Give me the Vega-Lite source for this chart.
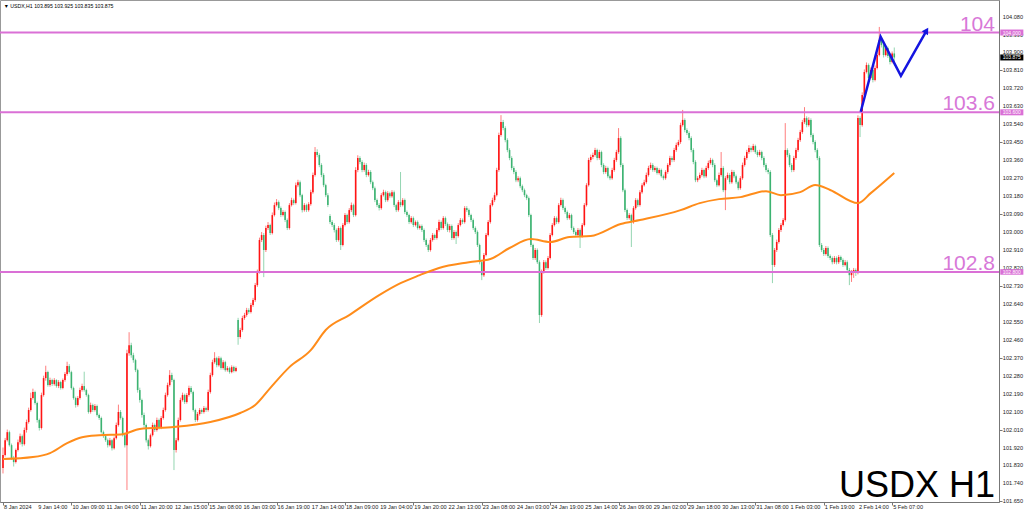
{
"$schema": "https://vega.github.io/schema/vega-lite/v6.json",
"width": 999, "height": 502,
"autosize": {"type": "none"},
"padding": {"left": 0, "top": 0, "right": 25, "bottom": 12},
"background": "white",
"config": {"view": {"stroke": "#999999", "strokeWidth": 1}, "font": "Liberation Sans"},
"datasets": {
"lv": [{"p": 104.0}, {"p": 103.6}, {"p": 102.8}],
"lvt": [{"p": 104.0, "t": "104"}, {"p": 103.6, "t": "103.6"}, {"p": 102.8, "t": "102.8"}],
"xl": [{"i":0,"t":"8 Jan 2024"},{"i":16,"t":"9 Jan 14:00"},{"i":32,"t":"10 Jan 09:00"},{"i":48,"t":"11 Jan 04:00"},{"i":64,"t":"11 Jan 20:00"},{"i":80,"t":"12 Jan 15:00"},{"i":96,"t":"15 Jan 08:00"},{"i":112,"t":"16 Jan 03:00"},{"i":128,"t":"16 Jan 19:00"},{"i":144,"t":"17 Jan 14:00"},{"i":160,"t":"18 Jan 09:00"},{"i":176,"t":"19 Jan 04:00"},{"i":192,"t":"19 Jan 20:00"},{"i":208,"t":"22 Jan 13:00"},{"i":224,"t":"23 Jan 08:00"},{"i":240,"t":"24 Jan 03:00"},{"i":256,"t":"24 Jan 19:00"},{"i":272,"t":"25 Jan 14:00"},{"i":288,"t":"26 Jan 09:00"},{"i":304,"t":"29 Jan 02:00"},{"i":320,"t":"29 Jan 18:00"},{"i":336,"t":"30 Jan 13:00"},{"i":352,"t":"31 Jan 08:00"},{"i":368,"t":"1 Feb 03:00"},{"i":384,"t":"1 Feb 19:00"},{"i":400,"t":"2 Feb 14:00"},{"i":416,"t":"5 Feb 07:00"}],
"yl": [{"p":101.65,"t":"101.650"},{"p":101.74,"t":"101.740"},{"p":101.83,"t":"101.830"},{"p":101.92,"t":"101.920"},{"p":102.01,"t":"102.010"},{"p":102.1,"t":"102.100"},{"p":102.19,"t":"102.190"},{"p":102.28,"t":"102.280"},{"p":102.37,"t":"102.370"},{"p":102.46,"t":"102.460"},{"p":102.55,"t":"102.550"},{"p":102.64,"t":"102.640"},{"p":102.73,"t":"102.730"},{"p":102.82,"t":"102.820"},{"p":102.91,"t":"102.910"},{"p":103.0,"t":"103.000"},{"p":103.09,"t":"103.090"},{"p":103.18,"t":"103.180"},{"p":103.27,"t":"103.270"},{"p":103.36,"t":"103.360"},{"p":103.45,"t":"103.450"},{"p":103.54,"t":"103.540"},{"p":103.63,"t":"103.630"},{"p":103.72,"t":"103.720"},{"p":103.81,"t":"103.810"},{"p":103.9,"t":"103.900"},{"p":103.99,"t":"103.990"},{"p":104.08,"t":"104.080"}],
"tags": [{"p": 104.0, "pt": 104.015, "pb": 103.985, "t": "104.000", "col": "#DA70D6"}, {"p": 103.6, "pt": 103.615, "pb": 103.585, "t": "103.600", "col": "#DA70D6"}, {"p": 102.8, "pt": 102.814, "pb": 102.786, "t": "102.800", "col": "#DA70D6"}, {"p": 103.875, "pt": 103.89, "pb": 103.86, "t": "103.875", "col": "#000000"}],
"arr": [{"k": 0, "i": 401.3, "p": 103.603}, {"k": 1, "i": 410.6, "p": 103.979}, {"k": 2, "i": 420.1, "p": 103.783}, {"k": 3, "i": 432.1, "p": 104.01}],
"arrhead": [{"i": 432.1, "p": 104.01}],
"ma": [{"i":0,"v":101.862},{"i":14,"v":101.872},{"i":22,"v":101.892},{"i":30,"v":101.942},{"i":37,"v":101.972},{"i":45,"v":101.982},{"i":56,"v":101.987},{"i":64,"v":102.013},{"i":80,"v":102.023},{"i":97,"v":102.048},{"i":111,"v":102.093},{"i":118,"v":102.133},{"i":125,"v":102.218},{"i":134,"v":102.323},{"i":144,"v":102.408},{"i":151,"v":102.509},{"i":162,"v":102.584},{"i":176,"v":102.684},{"i":186,"v":102.744},{"i":195,"v":102.784},{"i":204,"v":102.82},{"i":218,"v":102.849},{"i":228,"v":102.865},{"i":237,"v":102.92},{"i":247,"v":102.965},{"i":256,"v":102.95},{"i":265,"v":102.975},{"i":275,"v":102.98},{"i":289,"v":103.04},{"i":298,"v":103.06},{"i":317,"v":103.11},{"i":326,"v":103.145},{"i":335,"v":103.165},{"i":345,"v":103.175},{"i":357,"v":103.205},{"i":364,"v":103.185},{"i":373,"v":103.2},{"i":380,"v":103.236},{"i":387,"v":103.211},{"i":400,"v":103.145},{"i":406,"v":103.195},{"i":417,"v":103.296}],
"c": [
{"i":0,"o":101.817,"h":101.92,"l":101.79,"c":101.882},
{"i":1,"o":101.882,"h":101.968,"l":101.875,"c":101.957},
{"i":2,"o":101.957,"h":102.01,"l":101.95,"c":101.997},
{"i":3,"o":101.997,"h":102.005,"l":101.925,"c":101.932},
{"i":4,"o":101.932,"h":101.94,"l":101.858,"c":101.867},
{"i":5,"o":101.867,"h":101.878,"l":101.825,"c":101.847},
{"i":6,"o":101.847,"h":101.915,"l":101.84,"c":101.907},
{"i":7,"o":101.907,"h":101.96,"l":101.9,"c":101.947},
{"i":8,"o":101.947,"h":101.99,"l":101.935,"c":101.977},
{"i":9,"o":101.977,"h":101.985,"l":101.925,"c":101.937},
{"i":10,"o":101.937,"h":102.02,"l":101.93,"c":102.008},
{"i":11,"o":102.008,"h":102.06,"l":101.995,"c":102.048},
{"i":12,"o":102.048,"h":102.12,"l":102.04,"c":102.108},
{"i":13,"o":102.108,"h":102.195,"l":102.1,"c":102.168},
{"i":14,"o":102.168,"h":102.215,"l":102.16,"c":102.198},
{"i":15,"o":102.198,"h":102.205,"l":102.135,"c":102.143},
{"i":16,"o":102.143,"h":102.15,"l":102.045,"c":102.058},
{"i":17,"o":102.058,"h":102.065,"l":102.005,"c":102.018},
{"i":18,"o":102.018,"h":102.195,"l":102.01,"c":102.183},
{"i":19,"o":102.183,"h":102.28,"l":102.175,"c":102.268},
{"i":20,"o":102.268,"h":102.33,"l":102.255,"c":102.298},
{"i":21,"o":102.298,"h":102.305,"l":102.225,"c":102.233},
{"i":22,"o":102.233,"h":102.27,"l":102.225,"c":102.258},
{"i":23,"o":102.258,"h":102.265,"l":102.228,"c":102.238},
{"i":24,"o":102.238,"h":102.268,"l":102.23,"c":102.258},
{"i":25,"o":102.258,"h":102.262,"l":102.22,"c":102.228},
{"i":26,"o":102.228,"h":102.258,"l":102.218,"c":102.248},
{"i":27,"o":102.248,"h":102.255,"l":102.21,"c":102.218},
{"i":28,"o":102.218,"h":102.266,"l":102.212,"c":102.258},
{"i":29,"o":102.258,"h":102.298,"l":102.25,"c":102.288},
{"i":30,"o":102.288,"h":102.35,"l":102.28,"c":102.328},
{"i":31,"o":102.328,"h":102.338,"l":102.29,"c":102.298},
{"i":32,"o":102.298,"h":102.305,"l":102.21,"c":102.218},
{"i":33,"o":102.218,"h":102.225,"l":102.16,"c":102.168},
{"i":34,"o":102.168,"h":102.175,"l":102.12,"c":102.133},
{"i":35,"o":102.133,"h":102.178,"l":102.125,"c":102.168},
{"i":36,"o":102.168,"h":102.22,"l":102.16,"c":102.208},
{"i":37,"o":102.208,"h":102.24,"l":102.2,"c":102.228},
{"i":38,"o":102.228,"h":102.3,"l":102.2,"c":102.208},
{"i":39,"o":102.208,"h":102.215,"l":102.175,"c":102.183},
{"i":40,"o":102.183,"h":102.19,"l":102.09,"c":102.098},
{"i":41,"o":102.098,"h":102.145,"l":102.09,"c":102.133},
{"i":42,"o":102.133,"h":102.14,"l":102.098,"c":102.108},
{"i":43,"o":102.108,"h":102.138,"l":102.1,"c":102.128},
{"i":44,"o":102.128,"h":102.135,"l":102.075,"c":102.083},
{"i":45,"o":102.083,"h":102.09,"l":102.058,"c":102.068},
{"i":46,"o":102.068,"h":102.075,"l":101.99,"c":101.997},
{"i":47,"o":101.997,"h":102.005,"l":101.968,"c":101.977},
{"i":48,"o":101.977,"h":101.985,"l":101.948,"c":101.957},
{"i":49,"o":101.957,"h":101.965,"l":101.92,"c":101.932},
{"i":50,"o":101.932,"h":101.968,"l":101.925,"c":101.957},
{"i":51,"o":101.957,"h":101.962,"l":101.905,"c":101.917},
{"i":52,"o":101.917,"h":101.975,"l":101.91,"c":101.967},
{"i":53,"o":101.967,"h":102.045,"l":101.96,"c":102.033},
{"i":54,"o":102.033,"h":102.135,"l":102.025,"c":102.098},
{"i":55,"o":102.098,"h":102.108,"l":102.06,"c":102.068},
{"i":56,"o":102.068,"h":102.075,"l":101.975,"c":101.982},
{"i":57,"o":101.982,"h":101.99,"l":101.92,"c":101.932},
{"i":58,"o":101.932,"h":102.41,"l":101.707,"c":102.393},
{"i":59,"o":102.393,"h":102.498,"l":102.38,"c":102.433},
{"i":60,"o":102.433,"h":102.445,"l":102.37,"c":102.383},
{"i":61,"o":102.383,"h":102.395,"l":102.345,"c":102.358},
{"i":62,"o":102.358,"h":102.365,"l":102.298,"c":102.308},
{"i":63,"o":102.308,"h":102.315,"l":102.195,"c":102.208},
{"i":64,"o":102.208,"h":102.22,"l":102.145,"c":102.158},
{"i":65,"o":102.158,"h":102.165,"l":102.07,"c":102.083},
{"i":66,"o":102.083,"h":102.095,"l":102.02,"c":102.033},
{"i":67,"o":102.033,"h":102.04,"l":101.945,"c":101.957},
{"i":68,"o":101.957,"h":101.965,"l":101.91,"c":101.927},
{"i":69,"o":101.927,"h":101.99,"l":101.92,"c":101.982},
{"i":70,"o":101.982,"h":102.045,"l":101.975,"c":102.033},
{"i":71,"o":102.033,"h":102.04,"l":101.998,"c":102.008},
{"i":72,"o":102.008,"h":102.07,"l":102.0,"c":102.058},
{"i":73,"o":102.058,"h":102.065,"l":102.01,"c":102.018},
{"i":74,"o":102.018,"h":102.078,"l":102.012,"c":102.068},
{"i":75,"o":102.068,"h":102.12,"l":102.06,"c":102.108},
{"i":76,"o":102.108,"h":102.195,"l":102.1,"c":102.183},
{"i":77,"o":102.183,"h":102.245,"l":102.175,"c":102.233},
{"i":78,"o":102.233,"h":102.308,"l":102.225,"c":102.283},
{"i":79,"o":102.283,"h":102.295,"l":102.248,"c":102.258},
{"i":80,"o":102.258,"h":102.265,"l":101.807,"c":101.907},
{"i":81,"o":101.907,"h":101.968,"l":101.895,"c":101.957},
{"i":82,"o":101.957,"h":102.07,"l":101.95,"c":102.058},
{"i":83,"o":102.058,"h":102.17,"l":102.05,"c":102.158},
{"i":84,"o":102.158,"h":102.195,"l":102.15,"c":102.183},
{"i":85,"o":102.183,"h":102.19,"l":102.138,"c":102.148},
{"i":86,"o":102.148,"h":102.193,"l":102.14,"c":102.183},
{"i":87,"o":102.183,"h":102.23,"l":102.175,"c":102.218},
{"i":88,"o":102.218,"h":102.228,"l":102.19,"c":102.198},
{"i":89,"o":102.198,"h":102.205,"l":102.1,"c":102.108},
{"i":90,"o":102.108,"h":102.115,"l":102.048,"c":102.058},
{"i":91,"o":102.058,"h":102.098,"l":102.05,"c":102.088},
{"i":92,"o":102.088,"h":102.118,"l":102.08,"c":102.108},
{"i":93,"o":102.108,"h":102.115,"l":102.088,"c":102.098},
{"i":94,"o":102.098,"h":102.128,"l":102.09,"c":102.118},
{"i":95,"o":102.118,"h":102.125,"l":102.098,"c":102.108},
{"i":96,"o":102.108,"h":102.21,"l":102.1,"c":102.198},
{"i":97,"o":102.198,"h":102.295,"l":102.19,"c":102.283},
{"i":98,"o":102.283,"h":102.36,"l":102.275,"c":102.348},
{"i":99,"o":102.348,"h":102.398,"l":102.34,"c":102.368},
{"i":100,"o":102.368,"h":102.375,"l":102.322,"c":102.333},
{"i":101,"o":102.333,"h":102.378,"l":102.325,"c":102.368},
{"i":102,"o":102.368,"h":102.375,"l":102.31,"c":102.318},
{"i":103,"o":102.318,"h":102.358,"l":102.31,"c":102.348},
{"i":104,"o":102.348,"h":102.355,"l":102.3,"c":102.308},
{"i":105,"o":102.308,"h":102.328,"l":102.3,"c":102.318},
{"i":106,"o":102.318,"h":102.325,"l":102.29,"c":102.298},
{"i":107,"o":102.298,"h":102.332,"l":102.292,"c":102.323},
{"i":108,"o":102.323,"h":102.33,"l":102.296,"c":102.303},
{"i":109,"o":102.303,"h":102.326,"l":102.298,"c":102.318},
{"i":110,"o":102.559,"h":102.57,"l":102.435,"c":102.474},
{"i":111,"o":102.474,"h":102.52,"l":102.465,"c":102.509},
{"i":112,"o":102.509,"h":102.58,"l":102.5,"c":102.569},
{"i":113,"o":102.569,"h":102.595,"l":102.56,"c":102.584},
{"i":114,"o":102.584,"h":102.62,"l":102.575,"c":102.609},
{"i":115,"o":102.609,"h":102.618,"l":102.59,"c":102.599},
{"i":116,"o":102.599,"h":102.645,"l":102.592,"c":102.634},
{"i":117,"o":102.634,"h":102.67,"l":102.625,"c":102.659},
{"i":118,"o":102.659,"h":102.745,"l":102.65,"c":102.734},
{"i":119,"o":102.734,"h":102.812,"l":102.725,"c":102.8},
{"i":120,"o":102.8,"h":102.972,"l":102.792,"c":102.96},
{"i":121,"o":102.96,"h":103.0,"l":102.95,"c":102.985},
{"i":122,"o":102.985,"h":102.995,"l":102.774,"c":102.91},
{"i":123,"o":102.91,"h":103.032,"l":102.9,"c":103.02},
{"i":124,"o":103.02,"h":103.05,"l":103.01,"c":103.035},
{"i":125,"o":103.035,"h":103.042,"l":102.985,"c":102.995},
{"i":126,"o":102.995,"h":103.098,"l":102.988,"c":103.085},
{"i":127,"o":103.085,"h":103.148,"l":103.078,"c":103.135},
{"i":128,"o":103.135,"h":103.165,"l":103.128,"c":103.15},
{"i":129,"o":103.15,"h":103.158,"l":103.11,"c":103.12},
{"i":130,"o":103.12,"h":103.128,"l":103.075,"c":103.085},
{"i":131,"o":103.085,"h":103.11,"l":103.078,"c":103.1},
{"i":132,"o":103.1,"h":103.108,"l":103.05,"c":103.06},
{"i":133,"o":103.06,"h":103.068,"l":103.01,"c":103.02},
{"i":134,"o":103.02,"h":103.145,"l":103.012,"c":103.135},
{"i":135,"o":103.135,"h":103.172,"l":103.128,"c":103.16},
{"i":136,"o":103.16,"h":103.168,"l":103.135,"c":103.145},
{"i":137,"o":103.145,"h":103.248,"l":103.138,"c":103.235},
{"i":138,"o":103.235,"h":103.262,"l":103.225,"c":103.25},
{"i":139,"o":103.25,"h":103.258,"l":103.175,"c":103.185},
{"i":140,"o":103.185,"h":103.192,"l":103.098,"c":103.11},
{"i":141,"o":103.11,"h":103.145,"l":103.102,"c":103.135},
{"i":142,"o":103.135,"h":103.142,"l":103.1,"c":103.11},
{"i":143,"o":103.11,"h":103.15,"l":103.102,"c":103.14},
{"i":144,"o":103.14,"h":103.212,"l":103.132,"c":103.2},
{"i":145,"o":103.2,"h":103.298,"l":103.192,"c":103.286},
{"i":146,"o":103.286,"h":103.426,"l":103.278,"c":103.401},
{"i":147,"o":103.401,"h":103.415,"l":103.375,"c":103.386},
{"i":148,"o":103.386,"h":103.395,"l":103.325,"c":103.336},
{"i":149,"o":103.336,"h":103.345,"l":103.275,"c":103.286},
{"i":150,"o":103.286,"h":103.295,"l":103.225,"c":103.235},
{"i":151,"o":103.235,"h":103.242,"l":103.175,"c":103.185},
{"i":152,"o":103.185,"h":103.195,"l":103.125,"c":103.135},
{"i":153,"o":103.08,"h":103.09,"l":103.04,"c":103.05},
{"i":154,"o":103.05,"h":103.06,"l":103.025,"c":103.035},
{"i":155,"o":103.035,"h":103.045,"l":102.998,"c":103.01},
{"i":156,"o":103.01,"h":103.018,"l":102.95,"c":102.96},
{"i":157,"o":102.96,"h":103.03,"l":102.952,"c":103.02},
{"i":158,"o":103.02,"h":103.028,"l":102.91,"c":102.935},
{"i":159,"o":102.935,"h":103.045,"l":102.928,"c":103.035},
{"i":160,"o":103.035,"h":103.095,"l":103.028,"c":103.085},
{"i":161,"o":103.085,"h":103.092,"l":103.04,"c":103.05},
{"i":162,"o":103.05,"h":103.12,"l":103.042,"c":103.11},
{"i":163,"o":103.11,"h":103.148,"l":103.1,"c":103.135},
{"i":164,"o":103.135,"h":103.142,"l":103.075,"c":103.085},
{"i":165,"o":103.085,"h":103.325,"l":103.078,"c":103.311},
{"i":166,"o":103.311,"h":103.385,"l":103.3,"c":103.371},
{"i":167,"o":103.371,"h":103.38,"l":103.34,"c":103.351},
{"i":168,"o":103.351,"h":103.36,"l":103.3,"c":103.311},
{"i":169,"o":103.311,"h":103.348,"l":103.302,"c":103.336},
{"i":170,"o":103.336,"h":103.345,"l":103.275,"c":103.286},
{"i":171,"o":103.286,"h":103.312,"l":103.278,"c":103.301},
{"i":172,"o":103.301,"h":103.31,"l":103.24,"c":103.25},
{"i":173,"o":103.25,"h":103.258,"l":103.21,"c":103.22},
{"i":174,"o":103.22,"h":103.228,"l":103.15,"c":103.16},
{"i":175,"o":103.16,"h":103.168,"l":103.125,"c":103.135},
{"i":176,"o":103.135,"h":103.145,"l":103.108,"c":103.12},
{"i":177,"o":103.12,"h":103.195,"l":103.112,"c":103.185},
{"i":178,"o":103.185,"h":103.212,"l":103.178,"c":103.2},
{"i":179,"o":103.2,"h":103.208,"l":103.15,"c":103.16},
{"i":180,"o":103.16,"h":103.205,"l":103.152,"c":103.195},
{"i":181,"o":103.195,"h":103.202,"l":103.17,"c":103.18},
{"i":182,"o":103.18,"h":103.21,"l":103.172,"c":103.2},
{"i":183,"o":103.2,"h":103.208,"l":103.125,"c":103.135},
{"i":184,"o":103.135,"h":103.142,"l":103.1,"c":103.11},
{"i":185,"o":103.11,"h":103.16,"l":103.102,"c":103.15},
{"i":186,"o":103.15,"h":103.301,"l":103.125,"c":103.135},
{"i":187,"o":103.135,"h":103.17,"l":103.128,"c":103.16},
{"i":188,"o":103.16,"h":103.168,"l":103.09,"c":103.1},
{"i":189,"o":103.1,"h":103.108,"l":103.075,"c":103.085},
{"i":190,"o":103.085,"h":103.092,"l":103.04,"c":103.05},
{"i":191,"o":103.05,"h":103.08,"l":103.042,"c":103.07},
{"i":192,"o":103.07,"h":103.078,"l":103.025,"c":103.035},
{"i":193,"o":103.035,"h":103.058,"l":103.028,"c":103.05},
{"i":194,"o":103.05,"h":103.058,"l":103.012,"c":103.02},
{"i":195,"o":103.02,"h":103.038,"l":103.012,"c":103.03},
{"i":196,"o":103.03,"h":103.038,"l":103.0,"c":103.01},
{"i":197,"o":103.01,"h":103.018,"l":102.95,"c":102.96},
{"i":198,"o":102.96,"h":102.968,"l":102.925,"c":102.935},
{"i":199,"o":102.935,"h":102.942,"l":102.9,"c":102.91},
{"i":200,"o":102.91,"h":102.97,"l":102.902,"c":102.96},
{"i":201,"o":102.96,"h":102.995,"l":102.952,"c":102.985},
{"i":202,"o":102.985,"h":102.992,"l":102.96,"c":102.97},
{"i":203,"o":102.97,"h":103.02,"l":102.962,"c":103.01},
{"i":204,"o":103.01,"h":103.062,"l":103.002,"c":103.05},
{"i":205,"o":103.05,"h":103.058,"l":103.01,"c":103.02},
{"i":206,"o":103.02,"h":103.08,"l":103.012,"c":103.07},
{"i":207,"o":103.07,"h":103.078,"l":103.03,"c":103.04},
{"i":208,"o":103.04,"h":103.048,"l":103.0,"c":103.01},
{"i":209,"o":103.01,"h":103.04,"l":102.998,"c":103.03},
{"i":210,"o":103.03,"h":103.038,"l":102.96,"c":102.97},
{"i":211,"o":102.97,"h":103.01,"l":102.962,"c":103.0},
{"i":212,"o":103.0,"h":103.008,"l":102.94,"c":102.98},
{"i":213,"o":102.98,"h":103.045,"l":102.972,"c":103.035},
{"i":214,"o":103.035,"h":103.07,"l":103.028,"c":103.06},
{"i":215,"o":103.06,"h":103.068,"l":103.04,"c":103.05},
{"i":216,"o":103.05,"h":103.13,"l":103.042,"c":103.12},
{"i":217,"o":103.12,"h":103.13,"l":103.1,"c":103.11},
{"i":218,"o":103.11,"h":103.118,"l":103.075,"c":103.085},
{"i":219,"o":103.085,"h":103.092,"l":103.05,"c":103.06},
{"i":220,"o":103.06,"h":103.068,"l":103.01,"c":103.02},
{"i":221,"o":103.02,"h":103.028,"l":102.99,"c":103.0},
{"i":222,"o":103.0,"h":103.008,"l":102.925,"c":102.935},
{"i":223,"o":102.935,"h":102.942,"l":102.838,"c":102.849},
{"i":224,"o":102.849,"h":102.855,"l":102.759,"c":102.784},
{"i":225,"o":102.784,"h":102.895,"l":102.775,"c":102.885},
{"i":226,"o":102.885,"h":102.995,"l":102.878,"c":102.985},
{"i":227,"o":102.985,"h":103.06,"l":102.978,"c":103.05},
{"i":228,"o":103.05,"h":103.145,"l":103.042,"c":103.135},
{"i":229,"o":103.135,"h":103.172,"l":103.128,"c":103.16},
{"i":230,"o":103.16,"h":103.198,"l":103.15,"c":103.185},
{"i":231,"o":103.185,"h":103.322,"l":103.178,"c":103.311},
{"i":232,"o":103.311,"h":103.498,"l":103.302,"c":103.486},
{"i":233,"o":103.486,"h":103.586,"l":103.478,"c":103.551},
{"i":234,"o":103.551,"h":103.562,"l":103.51,"c":103.521},
{"i":235,"o":103.521,"h":103.53,"l":103.45,"c":103.461},
{"i":236,"o":103.461,"h":103.47,"l":103.4,"c":103.411},
{"i":237,"o":103.411,"h":103.42,"l":103.36,"c":103.371},
{"i":238,"o":103.371,"h":103.38,"l":103.31,"c":103.321},
{"i":239,"o":103.321,"h":103.33,"l":103.29,"c":103.301},
{"i":240,"o":103.301,"h":103.31,"l":103.25,"c":103.26},
{"i":241,"o":103.26,"h":103.28,"l":103.25,"c":103.27},
{"i":242,"o":103.27,"h":103.278,"l":103.22,"c":103.23},
{"i":243,"o":103.23,"h":103.238,"l":103.2,"c":103.21},
{"i":244,"o":103.21,"h":103.218,"l":103.175,"c":103.185},
{"i":245,"o":103.185,"h":103.192,"l":103.16,"c":103.17},
{"i":246,"o":103.17,"h":103.178,"l":103.075,"c":103.085},
{"i":247,"o":103.085,"h":103.092,"l":102.925,"c":102.935},
{"i":248,"o":102.935,"h":102.942,"l":102.86,"c":102.87},
{"i":249,"o":102.87,"h":102.92,"l":102.86,"c":102.91},
{"i":250,"o":102.91,"h":102.918,"l":102.84,"c":102.849},
{"i":251,"o":102.849,"h":102.858,"l":102.544,"c":102.584},
{"i":252,"o":102.584,"h":102.812,"l":102.575,"c":102.8},
{"i":253,"o":102.8,"h":102.86,"l":102.792,"c":102.849},
{"i":254,"o":102.849,"h":102.858,"l":102.81,"c":102.82},
{"i":255,"o":102.82,"h":102.88,"l":102.812,"c":102.87},
{"i":256,"o":102.87,"h":102.995,"l":102.862,"c":102.985},
{"i":257,"o":102.985,"h":103.045,"l":102.978,"c":103.035},
{"i":258,"o":103.035,"h":103.08,"l":103.028,"c":103.07},
{"i":259,"o":103.07,"h":103.078,"l":103.04,"c":103.05},
{"i":260,"o":103.05,"h":103.145,"l":103.042,"c":103.135},
{"i":261,"o":103.135,"h":103.172,"l":103.128,"c":103.16},
{"i":262,"o":103.16,"h":103.168,"l":103.11,"c":103.12},
{"i":263,"o":103.12,"h":103.128,"l":103.09,"c":103.1},
{"i":264,"o":103.1,"h":103.108,"l":103.06,"c":103.07},
{"i":265,"o":103.07,"h":103.095,"l":103.062,"c":103.085},
{"i":266,"o":103.085,"h":103.092,"l":103.01,"c":103.02},
{"i":267,"o":103.02,"h":103.028,"l":102.99,"c":103.0},
{"i":268,"o":103.0,"h":103.008,"l":102.975,"c":102.985},
{"i":269,"o":102.985,"h":103.02,"l":102.978,"c":103.01},
{"i":270,"o":103.01,"h":103.018,"l":102.92,"c":102.98},
{"i":271,"o":102.98,"h":103.045,"l":102.972,"c":103.035},
{"i":272,"o":103.035,"h":103.145,"l":103.028,"c":103.135},
{"i":273,"o":103.135,"h":103.245,"l":103.128,"c":103.235},
{"i":274,"o":103.235,"h":103.372,"l":103.228,"c":103.361},
{"i":275,"o":103.361,"h":103.388,"l":103.35,"c":103.376},
{"i":276,"o":103.376,"h":103.398,"l":103.365,"c":103.386},
{"i":277,"o":103.386,"h":103.422,"l":103.378,"c":103.411},
{"i":278,"o":103.411,"h":103.418,"l":103.36,"c":103.371},
{"i":279,"o":103.371,"h":103.412,"l":103.362,"c":103.401},
{"i":280,"o":103.401,"h":103.408,"l":103.325,"c":103.336},
{"i":281,"o":103.336,"h":103.345,"l":103.29,"c":103.301},
{"i":282,"o":103.301,"h":103.332,"l":103.292,"c":103.321},
{"i":283,"o":103.321,"h":103.328,"l":103.27,"c":103.28},
{"i":284,"o":103.28,"h":103.288,"l":103.26,"c":103.27},
{"i":285,"o":103.27,"h":103.322,"l":103.262,"c":103.311},
{"i":286,"o":103.311,"h":103.372,"l":103.302,"c":103.361},
{"i":287,"o":103.361,"h":103.412,"l":103.352,"c":103.401},
{"i":288,"o":103.401,"h":103.521,"l":103.392,"c":103.471},
{"i":289,"o":103.471,"h":103.48,"l":103.325,"c":103.336},
{"i":290,"o":103.336,"h":103.345,"l":103.2,"c":103.21},
{"i":291,"o":103.21,"h":103.218,"l":103.1,"c":103.11},
{"i":292,"o":103.11,"h":103.118,"l":103.06,"c":103.07},
{"i":293,"o":103.07,"h":103.095,"l":103.062,"c":103.085},
{"i":294,"o":103.085,"h":103.092,"l":102.925,"c":103.05},
{"i":295,"o":103.05,"h":103.13,"l":103.042,"c":103.12},
{"i":296,"o":103.12,"h":103.17,"l":103.112,"c":103.16},
{"i":297,"o":103.16,"h":103.168,"l":103.125,"c":103.135},
{"i":298,"o":103.135,"h":103.21,"l":103.128,"c":103.2},
{"i":299,"o":103.2,"h":103.245,"l":103.192,"c":103.235},
{"i":300,"o":103.235,"h":103.262,"l":103.228,"c":103.25},
{"i":301,"o":103.25,"h":103.298,"l":103.242,"c":103.286},
{"i":302,"o":103.286,"h":103.332,"l":103.278,"c":103.321},
{"i":303,"o":103.321,"h":103.348,"l":103.312,"c":103.336},
{"i":304,"o":103.336,"h":103.345,"l":103.302,"c":103.311},
{"i":305,"o":103.311,"h":103.33,"l":103.302,"c":103.321},
{"i":306,"o":103.321,"h":103.328,"l":103.288,"c":103.296},
{"i":307,"o":103.296,"h":103.32,"l":103.288,"c":103.311},
{"i":308,"o":103.311,"h":103.318,"l":103.272,"c":103.28},
{"i":309,"o":103.28,"h":103.288,"l":103.26,"c":103.27},
{"i":310,"o":103.27,"h":103.31,"l":103.262,"c":103.301},
{"i":311,"o":103.301,"h":103.345,"l":103.292,"c":103.336},
{"i":312,"o":103.336,"h":103.382,"l":103.328,"c":103.371},
{"i":313,"o":103.371,"h":103.38,"l":103.35,"c":103.361},
{"i":314,"o":103.361,"h":103.422,"l":103.352,"c":103.411},
{"i":315,"o":103.411,"h":103.448,"l":103.402,"c":103.436},
{"i":316,"o":103.436,"h":103.462,"l":103.428,"c":103.451},
{"i":317,"o":103.451,"h":103.548,"l":103.442,"c":103.536},
{"i":318,"o":103.536,"h":103.612,"l":103.528,"c":103.562},
{"i":319,"o":103.562,"h":103.57,"l":103.5,"c":103.511},
{"i":320,"o":103.511,"h":103.52,"l":103.486,"c":103.496},
{"i":321,"o":103.496,"h":103.505,"l":103.46,"c":103.471},
{"i":322,"o":103.471,"h":103.48,"l":103.4,"c":103.411},
{"i":323,"o":103.411,"h":103.42,"l":103.34,"c":103.351},
{"i":324,"o":103.351,"h":103.36,"l":103.25,"c":103.26},
{"i":325,"o":103.26,"h":103.28,"l":103.25,"c":103.27},
{"i":326,"o":103.27,"h":103.298,"l":103.262,"c":103.286},
{"i":327,"o":103.286,"h":103.322,"l":103.278,"c":103.311},
{"i":328,"o":103.311,"h":103.318,"l":103.27,"c":103.28},
{"i":329,"o":103.28,"h":103.332,"l":103.272,"c":103.321},
{"i":330,"o":103.321,"h":103.358,"l":103.312,"c":103.346},
{"i":331,"o":103.346,"h":103.372,"l":103.338,"c":103.361},
{"i":332,"o":103.361,"h":103.368,"l":103.325,"c":103.336},
{"i":333,"o":103.336,"h":103.345,"l":103.25,"c":103.26},
{"i":334,"o":103.26,"h":103.268,"l":103.225,"c":103.235},
{"i":335,"o":103.235,"h":103.298,"l":103.228,"c":103.286},
{"i":336,"o":103.286,"h":103.401,"l":103.278,"c":103.321},
{"i":337,"o":103.321,"h":103.33,"l":103.2,"c":103.21},
{"i":338,"o":103.21,"h":103.28,"l":103.11,"c":103.27},
{"i":339,"o":103.27,"h":103.298,"l":103.262,"c":103.286},
{"i":340,"o":103.286,"h":103.295,"l":103.24,"c":103.25},
{"i":341,"o":103.25,"h":103.312,"l":103.242,"c":103.301},
{"i":342,"o":103.301,"h":103.31,"l":103.27,"c":103.28},
{"i":343,"o":103.28,"h":103.288,"l":103.24,"c":103.25},
{"i":344,"o":103.25,"h":103.258,"l":103.21,"c":103.22},
{"i":345,"o":103.22,"h":103.28,"l":103.212,"c":103.27},
{"i":346,"o":103.27,"h":103.348,"l":103.262,"c":103.336},
{"i":347,"o":103.336,"h":103.382,"l":103.328,"c":103.371},
{"i":348,"o":103.371,"h":103.412,"l":103.362,"c":103.401},
{"i":349,"o":103.401,"h":103.435,"l":103.392,"c":103.421},
{"i":350,"o":103.421,"h":103.43,"l":103.4,"c":103.411},
{"i":351,"o":103.411,"h":103.442,"l":103.402,"c":103.431},
{"i":352,"o":103.431,"h":103.438,"l":103.392,"c":103.401},
{"i":353,"o":103.401,"h":103.41,"l":103.375,"c":103.386},
{"i":354,"o":103.386,"h":103.412,"l":103.378,"c":103.401},
{"i":355,"o":103.401,"h":103.408,"l":103.36,"c":103.371},
{"i":356,"o":103.371,"h":103.38,"l":103.325,"c":103.336},
{"i":357,"o":103.336,"h":103.345,"l":103.3,"c":103.311},
{"i":358,"o":103.311,"h":103.32,"l":103.29,"c":103.301},
{"i":359,"o":103.301,"h":103.31,"l":102.975,"c":102.985},
{"i":360,"o":102.985,"h":102.995,"l":102.744,"c":102.835},
{"i":361,"o":102.835,"h":102.92,"l":102.825,"c":102.91},
{"i":362,"o":102.91,"h":102.962,"l":102.9,"c":102.95},
{"i":363,"o":102.95,"h":103.02,"l":102.942,"c":103.01},
{"i":364,"o":103.01,"h":103.045,"l":103.0,"c":103.035},
{"i":365,"o":103.035,"h":103.07,"l":103.028,"c":103.06},
{"i":366,"o":103.06,"h":103.546,"l":103.052,"c":103.411},
{"i":367,"o":103.411,"h":103.42,"l":103.375,"c":103.386},
{"i":368,"o":103.386,"h":103.395,"l":103.325,"c":103.336},
{"i":369,"o":103.336,"h":103.345,"l":103.3,"c":103.311},
{"i":370,"o":103.311,"h":103.382,"l":103.302,"c":103.371},
{"i":371,"o":103.371,"h":103.422,"l":103.362,"c":103.411},
{"i":372,"o":103.411,"h":103.472,"l":103.402,"c":103.461},
{"i":373,"o":103.461,"h":103.512,"l":103.452,"c":103.501},
{"i":374,"o":103.501,"h":103.562,"l":103.492,"c":103.551},
{"i":375,"o":103.551,"h":103.626,"l":103.542,"c":103.571},
{"i":376,"o":103.571,"h":103.58,"l":103.525,"c":103.536},
{"i":377,"o":103.536,"h":103.575,"l":103.528,"c":103.562},
{"i":378,"o":103.562,"h":103.57,"l":103.475,"c":103.486},
{"i":379,"o":103.486,"h":103.495,"l":103.44,"c":103.451},
{"i":380,"o":103.451,"h":103.46,"l":103.4,"c":103.411},
{"i":381,"o":103.411,"h":103.42,"l":103.36,"c":103.371},
{"i":382,"o":103.371,"h":103.38,"l":102.925,"c":102.935},
{"i":383,"o":102.935,"h":102.945,"l":102.9,"c":102.91},
{"i":384,"o":102.91,"h":102.92,"l":102.88,"c":102.89},
{"i":385,"o":102.89,"h":102.93,"l":102.882,"c":102.92},
{"i":386,"o":102.92,"h":102.928,"l":102.87,"c":102.88},
{"i":387,"o":102.88,"h":102.888,"l":102.86,"c":102.87},
{"i":388,"o":102.87,"h":102.878,"l":102.838,"c":102.849},
{"i":389,"o":102.849,"h":102.88,"l":102.84,"c":102.87},
{"i":390,"o":102.87,"h":102.878,"l":102.838,"c":102.849},
{"i":391,"o":102.849,"h":102.885,"l":102.84,"c":102.875},
{"i":392,"o":102.875,"h":102.882,"l":102.85,"c":102.86},
{"i":393,"o":102.86,"h":102.868,"l":102.825,"c":102.835},
{"i":394,"o":102.835,"h":102.86,"l":102.828,"c":102.849},
{"i":395,"o":102.849,"h":102.858,"l":102.8,"c":102.81},
{"i":396,"o":102.81,"h":102.82,"l":102.734,"c":102.784},
{"i":397,"o":102.784,"h":102.81,"l":102.75,"c":102.8},
{"i":398,"o":102.8,"h":102.82,"l":102.77,"c":102.81},
{"i":399,"o":102.81,"h":102.818,"l":102.78,"c":102.795},
{"i":400,"o":102.795,"h":103.585,"l":102.788,"c":103.571},
{"i":401,"o":103.571,"h":103.58,"l":103.476,"c":103.536},
{"i":402,"o":103.536,"h":103.7,"l":103.528,"c":103.687},
{"i":403,"o":103.687,"h":103.815,"l":103.68,"c":103.802},
{"i":404,"o":103.802,"h":103.85,"l":103.795,"c":103.837},
{"i":405,"o":103.837,"h":103.845,"l":103.76,"c":103.772},
{"i":406,"o":103.772,"h":103.825,"l":103.765,"c":103.812},
{"i":407,"o":103.812,"h":103.82,"l":103.75,"c":103.762},
{"i":408,"o":103.762,"h":103.835,"l":103.755,"c":103.822},
{"i":409,"o":103.822,"h":103.9,"l":103.815,"c":103.887},
{"i":410,"o":103.887,"h":104.028,"l":103.88,"c":103.962},
{"i":411,"o":103.962,"h":103.972,"l":103.925,"c":103.937},
{"i":412,"o":103.937,"h":103.945,"l":103.875,"c":103.887},
{"i":413,"o":103.887,"h":103.935,"l":103.88,"c":103.922},
{"i":414,"o":103.922,"h":103.93,"l":103.872,"c":103.882},
{"i":415,"o":103.882,"h":103.89,"l":103.84,"c":103.852},
{"i":416,"o":103.852,"h":103.905,"l":103.845,"c":103.895},
{"i":417,"o":103.895,"h":103.925,"l":103.835,"c":103.875}
]
},
"layer": [
{
"data": {"name": "c"},
"mark": {"type": "rule", "strokeWidth": 1, "opacity": 0.55},
"encoding": {
"x": {"field": "i", "type": "quantitative", "title": null,
"scale": {"domain": [-1.4, 466], "nice": false, "zero": false},
"axis": {"values": [0,16,32,48,64,80,96,112,128,144,160,176,192,208,224,240,256,272,288,304,320,336,352,368,384,400,416],
"labels": false, "tickSize": 3, "tickColor": "#777777", "domainColor": "#777777", "grid": false, "title": null}},
"y": {"field": "l", "type": "quantitative", "title": null,
"scale": {"domain": [101.647, 104.163], "nice": false, "zero": false},
"axis": {"orient": "right", "values": [101.65,101.74,101.83,101.92,102.01,102.1,102.19,102.28,102.37,102.46,102.55,102.64,102.73,102.82,102.91,103.0,103.09,103.18,103.27,103.36,103.45,103.54,103.63,103.72,103.81,103.9,103.99,104.08],
"labels": false, "tickSize": 3, "tickColor": "#777777", "domainColor": "#777777", "grid": false, "title": null}},
"y2": {"field": "h"},
"color": {"condition": {"test": "datum.c >= datum.o", "value": "#FF1414"}, "value": "#3CB371"}
}
},
{
"data": {"name": "c"},
"mark": {"type": "rule", "strokeWidth": 1.6},
"encoding": {
"x": {"field": "i", "type": "quantitative", "title": null},
"y": {"field": "o", "type": "quantitative", "title": null},
"y2": {"field": "c"},
"color": {"condition": {"test": "datum.c >= datum.o", "value": "#FF1414"}, "value": "#3CB371"}
}
},
{
"data": {"name": "lv"},
"mark": {"type": "rule", "color": "#DA70D6", "strokeWidth": 2},
"encoding": {"y": {"field": "p", "type": "quantitative", "title": null}}
},
{
"data": {"name": "ma"},
"mark": {"type": "line", "color": "#FF8C1A", "strokeWidth": 2, "interpolate": "monotone"},
"encoding": {
"x": {"field": "i", "type": "quantitative", "title": null},
"y": {"field": "v", "type": "quantitative", "title": null}
}
},
{
"data": {"name": "arr"},
"mark": {"type": "line", "color": "#1414E0", "strokeWidth": 2.5},
"encoding": {
"x": {"field": "i", "type": "quantitative", "title": null},
"y": {"field": "p", "type": "quantitative", "title": null},
"order": {"field": "k"}
}
},
{
"data": {"name": "arrhead"},
"mark": {"type": "point", "shape": "triangle-up", "filled": true, "color": "#1414E0", "size": 55, "angle": 32, "opacity": 1},
"encoding": {
"x": {"field": "i", "type": "quantitative", "title": null},
"y": {"field": "p", "type": "quantitative", "title": null}
}
},
{
"data": {"name": "lvt"},
"mark": {"type": "text", "color": "#D878D8", "fontSize": 21, "align": "right", "baseline": "alphabetic", "dy": -2, "font": "Liberation Sans"},
"encoding": {
"x": {"datum": 464.1, "type": "quantitative"},
"y": {"field": "p", "type": "quantitative", "title": null},
"text": {"field": "t"}
}
},
{
"data": {"values": [{"t": "USDX H1"}]},
"mark": {"type": "text", "color": "#000000", "fontSize": 36, "align": "right", "baseline": "alphabetic", "font": "Liberation Sans"},
"encoding": {
"x": {"datum": 464.1, "type": "quantitative"},
"y": {"datum": 101.672, "type": "quantitative"},
"text": {"field": "t"}
}
},
{
"data": {"values": [{"t": "▼ USDX,H1  103.895 103.925 103.835 103.875"}]},
"mark": {"type": "text", "color": "#000000", "fontSize": 5.2, "align": "left", "baseline": "middle", "font": "Liberation Sans"},
"encoding": {
"x": {"datum": 0.3, "type": "quantitative"},
"y": {"datum": 104.133, "type": "quantitative"},
"text": {"field": "t"}
}
},
{
"data": {"name": "xl"},
"mark": {"type": "text", "color": "#222222", "fontSize": 5.6, "align": "left", "baseline": "middle", "dx": 1, "font": "Liberation Sans"},
"encoding": {
"x": {"field": "i", "type": "quantitative", "title": null},
"y": {"datum": 101.62, "type": "quantitative"},
"text": {"field": "t"}
}
},
{
"data": {"name": "yl"},
"mark": {"type": "text", "color": "#222222", "fontSize": 5.6, "align": "left", "baseline": "middle", "font": "Liberation Sans"},
"encoding": {
"x": {"datum": 467.8, "type": "quantitative"},
"y": {"field": "p", "type": "quantitative", "title": null},
"text": {"field": "t"}
}
},
{
"data": {"name": "tags"},
"mark": {"type": "rect"},
"encoding": {
"x": {"datum": 466.6, "type": "quantitative"},
"x2": {"datum": 477.4},
"y": {"field": "pt", "type": "quantitative", "title": null},
"y2": {"field": "pb"},
"color": {"field": "col", "type": "nominal", "scale": null}
}
},
{
"data": {"name": "tags"},
"mark": {"type": "text", "color": "white", "fontSize": 5, "align": "center", "baseline": "middle", "font": "Liberation Sans"},
"encoding": {
"x": {"datum": 472, "type": "quantitative"},
"y": {"field": "p", "type": "quantitative", "title": null},
"text": {"field": "t"}
}
}
]
}
